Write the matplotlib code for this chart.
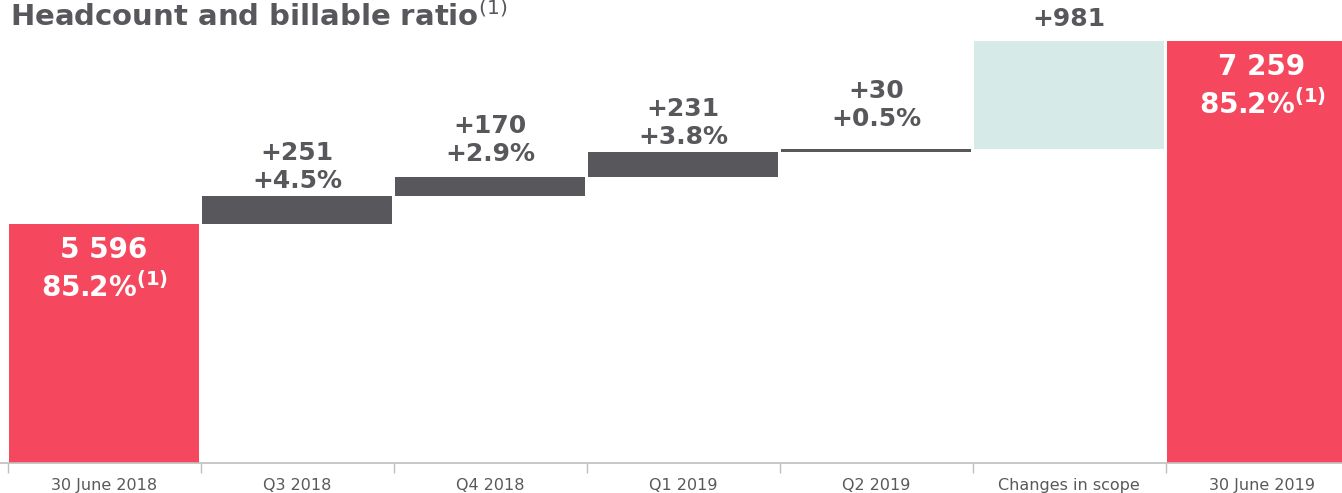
import matplotlib
matplotlib.use("Agg")
import matplotlib.pyplot as plt

# data
categories = ["30 June 2018", "Q3 2018", "Q4 2018", "Q1 2019", "Q2 2019",
              "Changes in scope", "30 June 2019"]
start_value = 5596
increments = [251, 170, 231, 30, 981]
increment_pcts = ["+4.5%", "+2.9%", "+3.8%", "+0.5%", None]
end_value = 7259
billable_ratio = ["85.2%", "85.2%"]

RED = "#F5485E"
DARK = "#58585C"
TEAL = "#D6EAE7"
TXT = "#58585C"

# label gap above each increment bar (points), as placed in the source
label_gap = [2, 8, 2, 13, 7]

fig = plt.figure(figsize=(13.42, 4.93), dpi=100)
ax = fig.add_axes([0, 30 / 493, 1, 463 / 493])

# waterfall bottoms
bottoms = []
run = start_value
for inc in increments:
    bottoms.append(run)
    run += inc

w = 0.98
ax.bar(0, start_value, width=w, color=RED, bottom=0)
for i, (inc, b) in enumerate(zip(increments, bottoms)):
    col = TEAL if i == len(increments) - 1 else DARK
    ax.bar(i + 1, inc, width=w, bottom=b, color=col)
ax.bar(len(categories) - 1, end_value, width=w, color=RED)

# labels on increments
for i, (inc, pct, b) in enumerate(zip(increments, increment_pcts, bottoms)):
    txt = f"+{inc:,}" if pct is None else f"+{inc}\n{pct}"
    ax.annotate(txt, (i + 1, b + inc), xytext=(0, label_gap[i]), textcoords="offset points",
                ha="center", va="bottom", fontsize=18, fontweight="bold",
                color=TXT, linespacing=1.2)

# labels on totals
for x, val, ratio in [(0, start_value, billable_ratio[0]),
                      (len(categories) - 1, end_value, billable_ratio[1])]:
    s = f"{val:,}".replace(",", " ")
    ax.annotate(s + "\n" + ratio + r"$^{\mathbf{(1)}}$", (x, val), xytext=(0, -9),
                textcoords="offset points", ha="center", va="top", fontsize=20,
                fontweight="bold", color="white", linespacing=1.35)

ax.set_ylim(3420, 3420 + 463 / 0.11)
ax.set_xlim(-104 / 193, (1342 - 104) / 193)

ax.set_yticks([])
for s in ["top", "right", "left"]:
    ax.spines[s].set_visible(False)
ax.spines["bottom"].set_color("#BFBFBF")
ax.spines["bottom"].set_linewidth(1.2)

ax.set_xticks(range(len(categories)))
ax.set_xticklabels(categories, fontsize=11.5, color="#595959")
ax.tick_params(axis="x", which="major", length=0, pad=11)
ax.set_xticks([i - 0.5 for i in range(len(categories))], minor=True)
ax.tick_params(axis="x", which="minor", length=7, color="#BFBFBF", width=1)

# title
fig.text(10 / 1342, 1 - 26 / 493, r"Headcount and billable ratio$^{(1)}$", fontsize=21,
         fontweight="bold", color=TXT, va="baseline", ha="left")

fig.savefig("out.png", dpi=100)
